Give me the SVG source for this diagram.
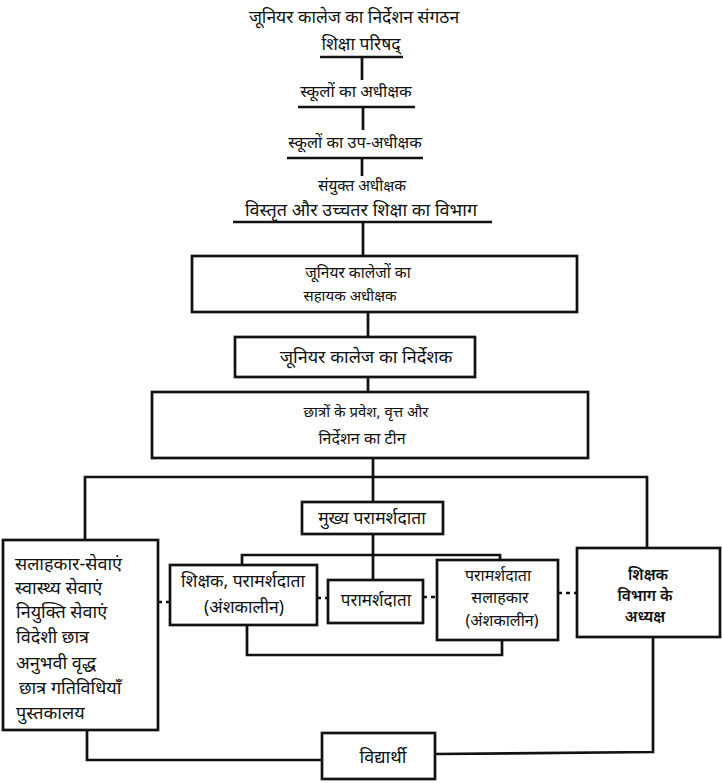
<svg xmlns="http://www.w3.org/2000/svg" width="722" height="783" viewBox="0 0 722 783">
<style>
.t{font-family:"Noto Sans","Noto Sans Devanagari","Lohit Devanagari","Mangal",sans-serif;font-size:14px;fill:#111;text-anchor:middle;dominant-baseline:middle}
.s{text-anchor:start;font-size:18px}
.b{fill:#fff;stroke:#111;stroke-width:2.7}
.l{fill:none;stroke:#111;stroke-width:2.7}
.d{fill:none;stroke:#111;stroke-width:2.7;stroke-dasharray:4 4}
</style>
<rect width="722" height="783" fill="#fff"/>
<g id="connectors">
<line class="l" x1="320" y1="57" x2="403" y2="57"/>
<line class="l" x1="362" y1="57" x2="362" y2="80"/>
<line class="l" x1="298" y1="107" x2="415" y2="107"/>
<line class="l" x1="363" y1="107" x2="363" y2="130"/>
<line class="l" x1="287" y1="158" x2="423" y2="158"/>
<line class="l" x1="362" y1="158" x2="362" y2="176"/>
<line class="l" x1="233" y1="222" x2="492" y2="222"/>
<line class="l" x1="363" y1="222" x2="363" y2="256"/>
<line class="l" x1="368" y1="312" x2="368" y2="337"/>
<line class="l" x1="368" y1="377" x2="368" y2="392"/>
<line class="l" x1="373" y1="458" x2="373" y2="502"/>
<polyline class="l" points="85,540 85,477 647,477 647,548"/>
<line class="l" x1="373" y1="534" x2="373" y2="580"/>
<polyline class="l" points="242,565 242,555 500,555 500,560"/>
<polyline class="l" points="247,625 247,655 502,655 502,640"/>
<polyline class="l" points="87,730 87,760 322,760"/>
<polyline class="l" points="653,637 653,752 435,754"/>
<line class="d" x1="158" y1="602" x2="170" y2="602"/>
<line class="d" x1="317" y1="598" x2="328" y2="598"/>
<line class="d" x1="423" y1="597" x2="437" y2="597"/>
<line class="d" x1="558" y1="593" x2="577" y2="593"/>
</g>
<g id="title"><text class="t" x="354" y="18" style="font-size:17.5px">जूनियर कालेज का निर्देशन संगठन</text></g>
<g id="n1"><text class="t" x="361" y="45" style="font-size:17.5px">शिक्षा परिषद्</text></g>
<g id="n2"><text class="t" x="356" y="93" style="font-size:16.5px">स्कूलों का अधीक्षक</text></g>
<g id="n3"><text class="t" x="355" y="144" style="font-size:16.3px">स्कूलों का उप-अधीक्षक</text></g>
<g id="n4"><text class="t" x="362" y="187" style="font-size:15.3px">संयुक्त अधीक्षक</text><text class="t" x="361" y="211" style="font-size:18px">विस्तृत और उच्चतर शिक्षा का विभाग</text></g>
<g id="n5"><rect class="b" x="192" y="256" width="385" height="56"/><text class="t" x="358" y="274" style="font-size:15.5px">जूनियर कालेजों का</text><text class="t" x="350" y="297" style="font-size:15px">सहायक अधीक्षक</text></g>
<g id="n6"><rect class="b" x="235" y="337" width="240" height="40"/><text class="t" x="366" y="358" style="font-size:18px">जूनियर कालेज का निर्देशक</text></g>
<g id="n7"><rect class="b" x="152" y="392" width="436" height="66"/><text class="t" x="366" y="413" style="font-size:15px">छात्रों के प्रवेश, वृत्त और</text><text class="t" x="362" y="440" style="font-size:16px">निर्देशन का टीन</text></g>
<g id="n8"><rect class="b" x="302" y="502" width="141" height="32"/><text class="t" x="372" y="519" style="font-size:17.5px">मुख्य परामर्शदाता</text></g>
<g id="n9"><rect class="b" x="3" y="540" width="155" height="190"/>
<text class="t s" x="15" y="565">सलाहकार-सेवाएं</text>
<text class="t s" x="15" y="589">स्वास्थ्य सेवाएं</text>
<text class="t s" x="16" y="613">नियुक्ति सेवाएं</text>
<text class="t s" x="16" y="638">विदेशी छात्र</text>
<text class="t s" x="16" y="664">अनुभवी वृद्ध</text>
<text class="t s" x="19" y="689">छात्र गतिविधियाँ</text>
<text class="t s" x="16" y="714">पुस्तकालय</text>
</g>
<g id="n10"><rect class="b" x="170" y="565" width="147" height="60"/><text class="t" x="243" y="582" style="font-size:17.5px">शिक्षक, परामर्शदाता</text><text class="t" x="244" y="608" style="font-size:17.5px">(अंशकालीन)</text></g>
<g id="n11"><rect class="b" x="328" y="580" width="95" height="43"/><text class="t" x="376" y="601" style="font-size:17px">परामर्शदाता</text></g>
<g id="n12"><rect class="b" x="437" y="560" width="121" height="80"/><text class="t" x="498" y="577" style="font-size:16px">परामर्शदाता</text><text class="t" x="500" y="599" style="font-size:16px">सलाहकार</text><text class="t" x="502" y="622" style="font-size:16px">(अंशकालीन)</text></g>
<g id="n13"><rect class="b" x="577" y="548" width="143" height="89"/><text class="t" x="648" y="576" style="font-size:15.5px;font-weight:600">शिक्षक</text><text class="t" x="645" y="597" style="font-size:15.5px;font-weight:600">विभाग के</text><text class="t" x="645" y="618" style="font-size:15.5px;font-weight:600">अध्यक्ष</text></g>
<g id="n14"><rect class="b" x="322" y="733" width="113" height="46"/><text class="t" x="383" y="758" style="font-size:18px">विद्यार्थी</text></g>
</svg>
